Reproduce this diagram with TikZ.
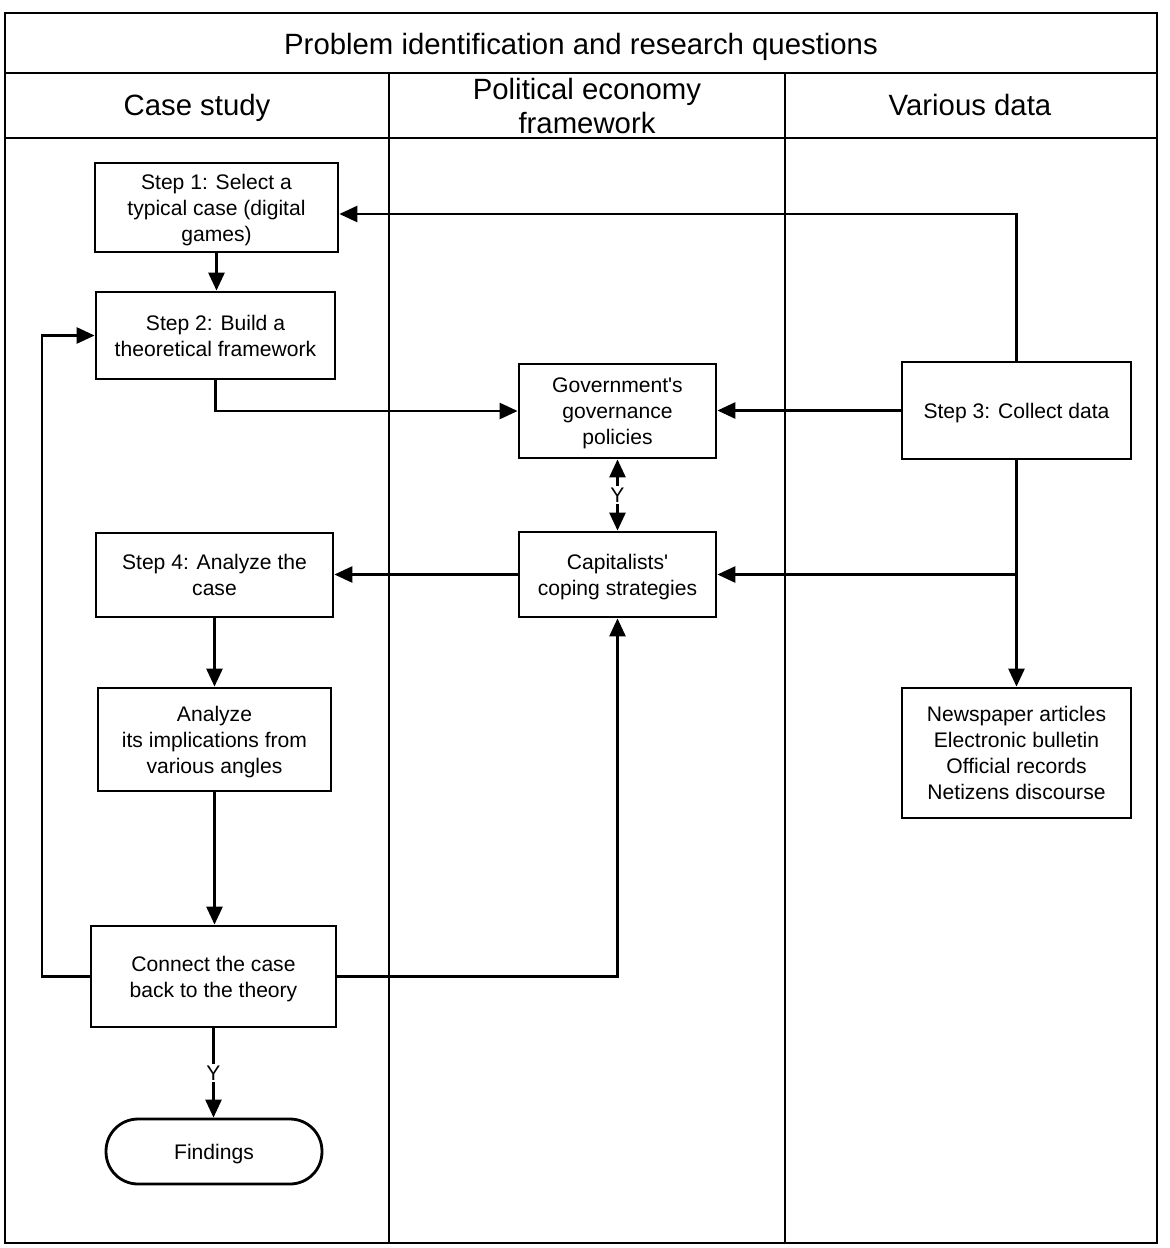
\documentclass[tikz,border=0pt]{standalone}
\usepackage{fontspec}
\setmainfont{Liberation Sans}
\usetikzlibrary{arrows.meta}
\begin{document}
\begin{tikzpicture}[x=0.02cm,y=-0.02cm,
  frame/.style={line width=1.1pt},
  box/.style={draw,line width=1.6pt,rectangle,inner sep=0pt,align=center,text depth=0pt,font=\fontsize{12}{14.8}\selectfont},
  head/.style={align=center,font=\fontsize{16.7}{19.9}\selectfont},
  arr/.style={line width=1.5pt,-{Triangle[length=0.36cm,width=0.32cm]}},
  darr/.style={line width=1.5pt,{Triangle[length=0.36cm,width=0.32cm]}-{Triangle[length=0.36cm,width=0.32cm]}},
  lbl/.style={fill=white,inner sep=1pt,font=\fontsize{12}{14}\selectfont}]
\useasboundingbox (0,0) rectangle (1170,1248);
% frame
\draw[frame] (5,13) rectangle (1157,1243);
\draw[frame] (5,73) -- (1157,73);
\draw[frame] (5,138) -- (1157,138);
\draw[frame] (389,73) -- (389,1243);
\draw[frame] (785,73) -- (785,1243);
\node[head] (title) at (581,47) {Problem identification and research questions};
\node[head] (h1) at (197,108) {Case study};
\node[head] (h2) at (587,106) {Political economy\\framework};
\node[head] (h3) at (970,105) {Various data};
% boxes
\node[box,minimum width=4.86cm,minimum height=1.78cm] (s1) at (216.5,207.5) {Step 1: Select a\\typical case (digital\\games)};
\node[box,minimum width=4.78cm,minimum height=1.74cm] (s2) at (215.5,335.5) {Step 2: Build a\\theoretical framework};
\node[box,minimum width=3.94cm,minimum height=1.88cm] (gov) at (617.5,411) {Government\textquotesingle s\\governance\\policies};
\node[box,minimum width=4.58cm,minimum height=1.94cm] (s3) at (1016.5,410.5) {Step 3: Collect data};
\node[box,minimum width=4.74cm,minimum height=1.68cm] (s4) at (214.5,575) {Step 4: Analyze the\\case};
\node[box,minimum width=3.94cm,minimum height=1.70cm] (cap) at (617.5,574.5) {Capitalists\textquotesingle\\coping strategies};
\node[box,minimum width=4.66cm,minimum height=2.06cm] (an) at (214.5,739.5) {Analyze\\its implications from\\various angles};
\node[box,minimum width=4.58cm,minimum height=2.60cm] (news) at (1016.5,753) {Newspaper articles\\Electronic bulletin\\Official records\\Netizens discourse};
\node[box,minimum width=4.90cm,minimum height=2.02cm] (con) at (213.5,976.5) {Connect the case\\back to the theory};
\node[box,rounded corners=0.64cm,minimum width=4.32cm,minimum height=1.30cm] (fin) at (214,1151.5) {Findings};
% connectors
\draw[arr] (s1.south) -- (s1.south |- s2.north);
\draw[arr] (s3.north) |- ([yshift=-0.13cm]s1.east);
\draw[arr] (s2.south) |- (gov.west);
\draw[arr] (s3.west) -- (s3.west -| gov.east);
\draw[darr] (gov.south) -- node[lbl] {Y} (cap.north);
\draw[arr] (s3.south) -- (news.north);
\coordinate (br) at (s3.south |- cap.east);
\draw[arr] (br) -- (cap.east);
\draw[arr] (cap.west) -- (cap.west -| s4.east);
\draw[arr] (s4.south) -- (an.north);
\draw[arr] (an.south) -- (an.south |- con.north);
\draw[arr] (con.east) -| (cap.south);
\coordinate (lp) at (42,976.5);
\draw[arr] (con.west) -- (lp) |- (s2.west);
\draw[arr] (con.south) -- node[lbl] {Y} (con.south |- fin.north);
\end{tikzpicture}
\end{document}
